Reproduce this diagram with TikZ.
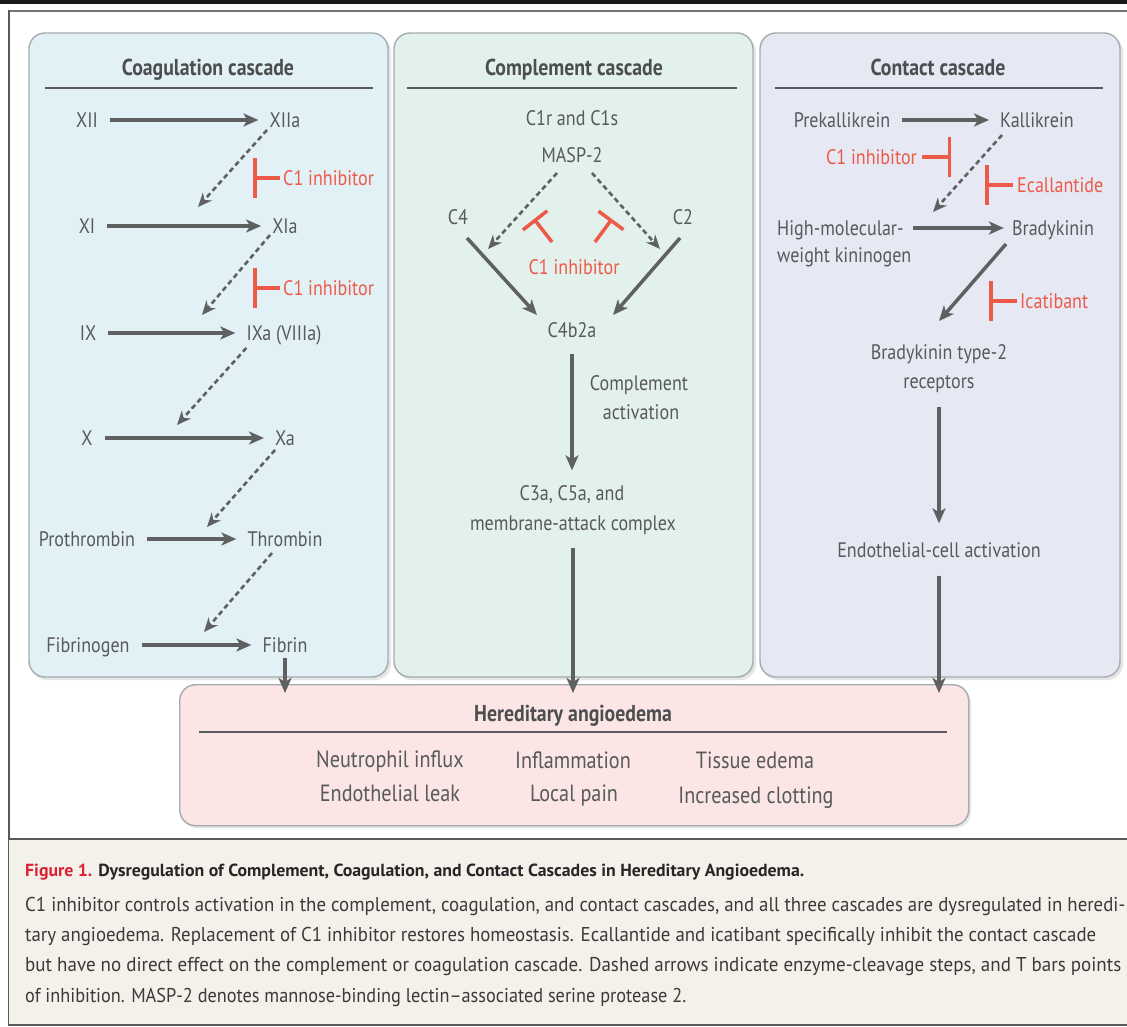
\documentclass[tikz,border=0pt]{standalone}
\usepackage{graphicx}
\usepackage{fontspec}
\setmainfont{PT Sans}[FakeStretch=0.86]
\usetikzlibrary{arrows.meta,calc}
\definecolor{txtgray}{HTML}{58595B}
\definecolor{ttlgray}{HTML}{4D4E50}
\definecolor{arrgray}{HTML}{5F6062}
\definecolor{inhred}{HTML}{EE5A48}
\definecolor{figred}{HTML}{DA2032}
\definecolor{coagfill}{HTML}{E2F1F6}
\definecolor{compfill}{HTML}{E3F1EC}
\definecolor{contfill}{HTML}{E6E8F4}
\definecolor{haefill}{HTML}{FBE6E5}
\definecolor{capfill}{HTML}{F4F1EA}
\definecolor{panelborder}{HTML}{A5ABAE}
\definecolor{rulegray}{HTML}{58595B}
\definecolor{captxt}{HTML}{3A3A3A}
\begin{document}
\begin{tikzpicture}[x=1pt,y=-1pt,
  lbl/.style={font=\fontsize{21}{29}\selectfont, text=txtgray, inner sep=0pt, text height=15pt, text depth=0pt},
  ttl/.style={font=\bfseries\fontsize{23}{28}\selectfont, text=ttlgray, inner sep=0pt, text height=16pt, text depth=0pt},
  inh/.style={lbl, text=inhred},
  hlbl/.style={lbl, font=\fontsize{23.5}{29}\selectfont, text height=17pt},
  harr/.style={draw=arrgray, line width=3.5pt, -{Stealth[length=15pt,width=13pt,inset=4pt]}, shorten <=12pt, shorten >=11pt},
  darr/.style={draw=arrgray, line width=2.6pt, dash pattern=on 5pt off 3.5pt, -{Stealth[length=14pt,width=12pt,inset=4.5pt]}},
  sarr/.style={draw=arrgray, line width=3.5pt, -{Stealth[length=15pt,width=13pt,inset=4pt]}},
  tb/.style={draw=inhred, line width=3.5pt, -{Bar[width=40pt]}},
  panel/.style={draw=panelborder, line width=1.4pt, rounded corners=16pt},
  pshadow/.style={fill=black!10, rounded corners=16pt},
  rule/.style={draw=rulegray, line width=1.5pt},
  capb/.style={anchor=base west, inner sep=0pt, text=captxt, font=\fontsize{20}{24}\selectfont},
]
\useasboundingbox (0,0) rectangle (1127,1027);
\fill[white] (0,0) rectangle (1127,1027);
% frame
\draw[line width=3.5pt, draw=black!90] (0,2) -- (1127,2);
\draw[line width=2.2pt, draw=black!55] (9,11) -- (1127,11);
\draw[line width=2pt, draw=black!65] (9,10) -- (9,1026);
\fill[capfill] (9,839) rectangle (1127,1024);
\draw[line width=2.5pt, draw=black!65] (9,839) -- (1127,839);
\draw[line width=2pt, draw=black!65] (9,1025) -- (1127,1025);

% panels
\fill[pshadow] (31,36) rectangle (391,680);
\fill[pshadow] (396,36) rectangle (756,680);
\fill[pshadow] (762,36) rectangle (1123,680);
\draw[panel, fill=coagfill] (29,33) rectangle (388,677);
\draw[panel, fill=compfill] (394,33) rectangle (753,677);
\draw[panel, fill=contfill] (760,33) rectangle (1120,677);

% HAE box
\fill[pshadow] (181,687) rectangle (971,828);
\node[draw=panelborder, line width=1.4pt, fill=haefill, rounded corners=16pt, minimum width=789pt, minimum height=141pt, inner sep=0pt, anchor=north west] (hae) at (179,684) {};

% titles
\node[ttl] (tcoag) at (208,68) {Coagulation cascade};
\draw[rule] (45,88) -- (373,88);
\node[ttl] (tcomp) at (574,68) {Complement cascade};
\draw[rule] (407,88) -- (737,88);
\node[ttl] (tcont) at (938,68) {Contact cascade};
\draw[rule] (775,88) -- (1103,88);

% ---------- coagulation ----------
\node[lbl] (XII) at (87,120) {XII};
\node[lbl] (XIIa) at (285,120) {XIIa};
\node[lbl] (XI) at (87,226) {XI};
\node[lbl] (XIa) at (285,226) {XIa};
\node[lbl] (IX) at (88,333) {IX};
\node[lbl] (IXa) at (284,333) {IXa (VIIIa)};
\node[lbl] (X) at (87,438) {X};
\node[lbl] (Xa) at (285,438) {Xa};
\node[lbl] (Pro) at (87,539) {Prothrombin};
\node[lbl] (Thr) at (285,539) {Thrombin};
\node[lbl] (Fbg) at (88,645) {Fibrinogen};
\node[lbl] (Fbn) at (285,645) {Fibrin};
\draw[harr] (XII) -- (XIIa);
\draw[harr] (XI) -- (XIa);
\draw[harr] (IX) -- (IXa);
\draw[harr] (X) -- (Xa);
\draw[harr] (Pro) -- (Thr);
\draw[harr] (Fbg) -- (Fbn);
\coordinate (d1) at (198,207);
\coordinate (d2) at (202,315);
\coordinate (d3) at (177,425);
\coordinate (d4) at (207,527);
\coordinate (d5) at (204,632);
\draw[darr] ($(XIIa)+(-18,10)$) -- (d1);
\draw[darr] ($(XIa)+(-15,9)$) -- (d2);
\draw[darr] ($(IXa.west)+(0,15)$) -- (d3);
\draw[darr] ($(Xa)+(-10,12)$) -- (d4);
\draw[darr] ($(Thr)+(-13,14)$) -- (d5);
\node[inh, anchor=west] (ci1) at (283,178) {C1 inhibitor};
\node[inh, anchor=west] (ci2) at (283,288) {C1 inhibitor};
\draw[tb] ([xshift=-3pt]ci1.west) -- ([xshift=-30pt]ci1.west);
\draw[tb] ([xshift=-3pt]ci2.west) -- ([xshift=-30pt]ci2.west);

% ---------- complement ----------
\node[lbl] (c1rs) at (572,118) {C1r and C1s};
\node[lbl] (masp) at (572,155) {MASP-2};
\node[lbl] (C4) at (458,217) {C4};
\node[lbl] (C2) at (683,217) {C2};
\node[inh] (cinh) at (574,267) {C1 inhibitor};
\node[lbl] (C4b2a) at (572,330) {C4b2a};
\node[lbl] (cact1) at (639,383) {Complement};
\node[lbl] (cact2) at (641,412) {activation};
\node[lbl] (c3a1) at (572,493) {C3a, C5a, and};
\node[lbl] (c3a2) at (573,523) {membrane-attack complex};
\coordinate (d6) at (488,249);
\coordinate (d7) at (660,249);
\draw[darr] ($(masp)+(-15,18)$) -- (d6);
\draw[darr] ($(masp)+(20,18)$) -- (d7);
\draw[sarr] ($(C4)+(9,21)$) -- ($(C4b2a)+(-35,-15)$);
\draw[sarr] ($(C2)+(-3,21)$) -- ($(C4b2a)+(41,-15)$);
\draw[tb, -{Bar[width=31pt]}] ($(cinh)+(-22,-25)$) -- ($(cinh)+(-40,-48)$);
\draw[tb, -{Bar[width=31pt]}] ($(cinh)+(21,-25)$) -- ($(cinh)+(38,-48)$);
\draw[sarr, shorten <=16pt, shorten >=15pt] (C4b2a) -- (c3a1);
\draw[sarr, shorten <=17pt, shorten >=-9pt] (c3a2) -- (c3a2 |- hae.north);

% ---------- contact ----------
\node[lbl] (pk) at (842,120) {Prekallikrein};
\node[lbl] (kal) at (1037,120) {Kallikrein};
\draw[harr] (pk) -- (kal);
\coordinate (d8) at (933,212);
\draw[darr] ($(kal.west)+(2,15)$) -- (d8);
\node[inh, anchor=east] (ci3) at (917,157) {C1 inhibitor};
\draw[tb] ([xshift=5pt]ci3.east) -- ([xshift=34pt]ci3.east);
\node[inh, anchor=west] (ecal) at (1017,185) {Ecallantide};
\draw[tb] ([xshift=-4pt]ecal.west) -- ([xshift=-32pt]ecal.west);
\node[lbl, anchor=west] (hmw1) at (777,228) {High-molecular-};
\node[lbl, anchor=west] (hmw2) at (777,255) {weight kininogen};
\node[lbl] (bk) at (1053,228) {Bradykinin};
\draw[harr, shorten <=9pt, shorten >=8pt] (hmw1) -- (bk);
\node[inh, anchor=west] (icat) at (1020,301) {Icatibant};
\draw[tb] ([xshift=-3pt]icat.west) -- ([xshift=-31pt]icat.west);
\node[lbl] (btr1) at (939,352) {Bradykinin type-2};
\node[lbl] (btr2) at (939,381) {receptors};
\draw[sarr] ($(bk)+(-47,16)$) -- ($(btr1)+(0,-31)$);
\node[lbl] (eca) at (939,550) {Endothelial-cell activation};
\draw[sarr, shorten <=18pt, shorten >=19pt] (btr2) -- (btr2 |- eca.north);
\draw[sarr, shorten <=18pt, shorten >=-9pt] (eca) -- (eca |- hae.north);

% coag to HAE
\draw[sarr, shorten <=5pt, shorten >=-9pt] (Fbn) -- (Fbn |- hae.north);

% ---------- HAE contents ----------
\node[ttl] (haet) at (573,713) {Hereditary angioedema};
\draw[rule] (199,732) -- (947,732);
\node[hlbl] (h1) at (390,759) {Neutrophil influx};
\node[hlbl] (h2) at (390,793) {Endothelial leak};
\node[hlbl] (h3) at (573,760) {Inflammation};
\node[hlbl] (h4) at (574,793) {Local pain};
\node[hlbl] (h5) at (755,760) {Tissue edema};
\node[hlbl] (h6) at (756,795) {Increased clotting};

% ---------- caption ----------
\node[capb, font=\bfseries\fontsize{17.5}{20}\selectfont, text=black!85] (capt) at (25,876) {\resizebox{779pt}{\height}{\textcolor{figred}{Figure 1.} Dysregulation of Complement, Coagulation, and Contact Cascades in Hereditary Angioedema.}};
\node[capb] (cap1) at (25,911) {\resizebox{1100pt}{\height}{C1 inhibitor controls activation in the complement, coagulation, and contact cascades, and all three cascades are dysregulated in heredi-}};
\node[capb] (cap2) at (25,941) {\resizebox{1071pt}{\height}{tary angioedema. Replacement of C1 inhibitor restores homeostasis. Ecallantide and icatibant specifically inhibit the contact cascade}};
\node[capb] (cap3) at (25,971.5) {\resizebox{1096pt}{\height}{but have no direct effect on the complement or coagulation cascade. Dashed arrows indicate enzyme-cleavage steps, and T bars points}};
\node[capb] (cap4) at (25,1002) {\resizebox{661pt}{\height}{of inhibition. MASP-2 denotes mannose-binding lectin--associated serine protease 2.}};
\end{tikzpicture}
\end{document}
